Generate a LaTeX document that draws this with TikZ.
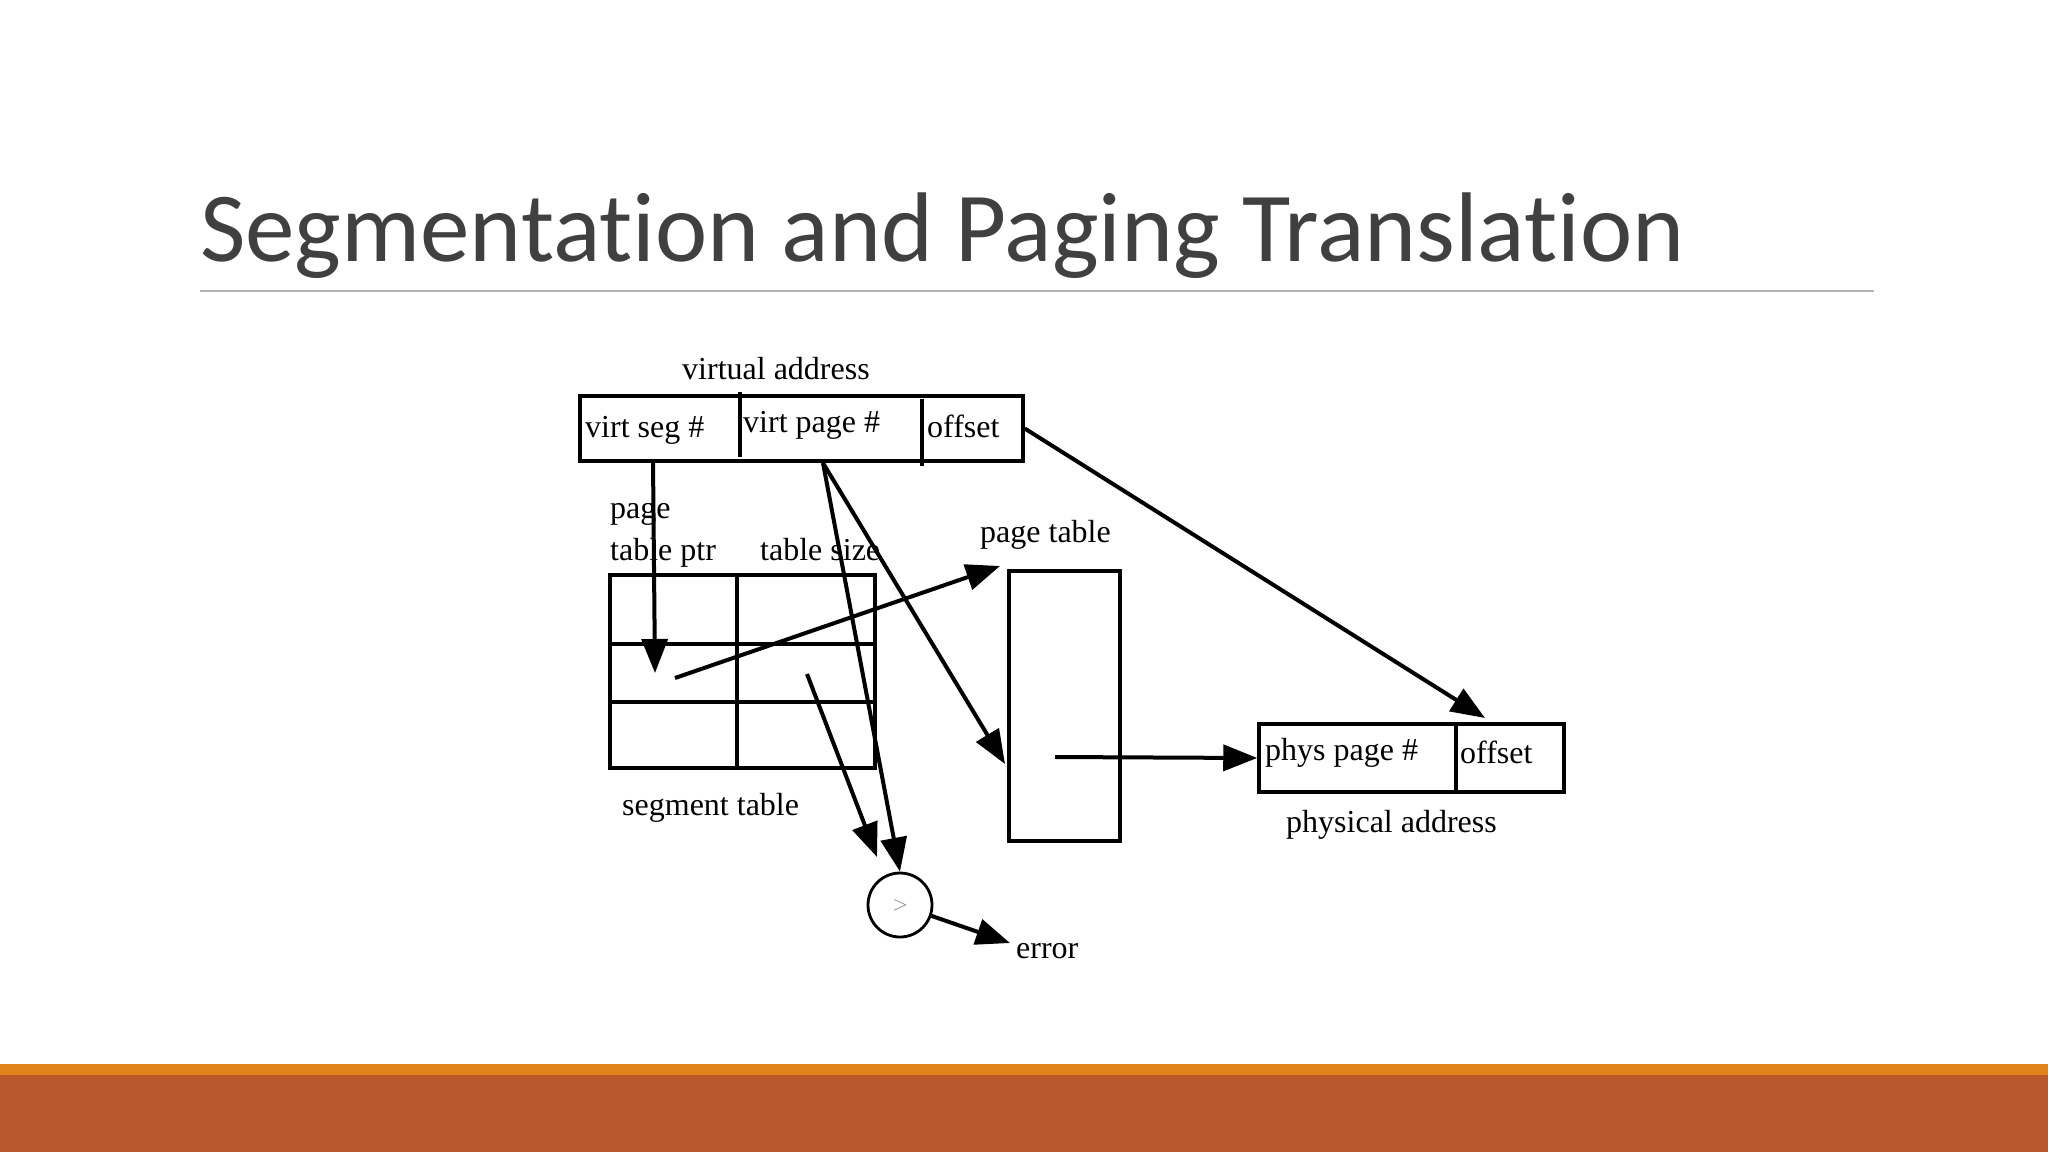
\documentclass[tikz,border=0pt]{standalone}
\usepackage{fontspec}
\setmainfont{Liberation Serif}
\newfontfamily\titlefont[Ligatures=NoCommon]{Carlito}
\usetikzlibrary{arrows.meta}

\definecolor{titlegray}{HTML}{404040}
\definecolor{rulegray}{HTML}{B4B4B4}
\definecolor{barorange}{HTML}{E2841A}
\definecolor{barrust}{HTML}{BA582D}

\tikzset{
  box/.style={draw, rectangle, line width=3.5pt, inner sep=0pt},
  lbl/.style={anchor=base west, inner sep=0pt, font=\fontsize{32}{38}\selectfont},
  arr/.style={-{Triangle[length=34pt,width=26pt]}, line width=4pt},
}

\begin{document}
\begin{tikzpicture}[x=1pt,y=-1pt]
        \useasboundingbox (0,0) rectangle (2048,1152);

        % Slide
        \fill[barorange] (0,1064) rectangle (2048,1075);
        \fill[barrust] (0,1075) rectangle (2048,1152);
        \node at (200,261) [anchor=base west, inner sep=0pt, text=titlegray, font=\titlefont\fontsize{99}{105}\selectfont] (title) {Segmentation and Paging Translation};
        \draw[rulegray, line width=1.5pt] (200,291) -- (1874,291);

        % Boxes
        \node at (801.5,428.5) [box, minimum width=443pt, minimum height=65pt] (vaddr) {};
        \draw[line width=3.5pt] (740,392) -- (740,457);
        \draw[line width=3.5pt] (922,399) -- (922,466);

        \node at (742.5,671.5) [box, minimum width=265pt, minimum height=193pt] (segtab) {};
        \draw[line width=3.5pt] (737,575) -- (737,768);
        \draw[line width=3.5pt] (610,644) -- (875,644);
        \draw[line width=3.5pt] (610,702) -- (875,702);

        \node at (1064.5,706) [box, minimum width=111pt, minimum height=270pt] (ptab) {};

        \node at (1411.5,758) [box, minimum width=305pt, minimum height=68pt] (paddr) {};
        \draw[line width=3.5pt] (1456,724) -- (1456,794);

        \node at (900,905) [circle, draw, line width=2.8pt, minimum size=64pt, inner sep=0pt, text=gray, font=\sffamily\fontsize{22}{22}\selectfont] (cmp) {$>$};

        % Labels
        \node at (682,379) [lbl] (vaddrlbl) {virtual address};
        \node at (585,437) [lbl] (vseg) {virt seg \#};
        \node at (743,432) [lbl] (vpage) {virt page \#};
        \node at (927,437) [lbl] (voff) {offset};
        \node at (610,518) [lbl] (pagelbl) {page};
        \node at (610,560) [lbl] (ptrlbl) {table ptr};
        \node at (760,560) [lbl] (sizelbl) {table size};
        \node at (622,815) [lbl] (seglbl) {segment table};
        \node at (980,542) [lbl] (ptablbl) {page table};
        \node at (1265,760) [lbl] (ppage) {phys page \#};
        \node at (1460,763) [lbl] (poff) {offset};
        \node at (1286,832) [lbl] (paddrlbl) {physical address};
        \node at (1016,958) [lbl] (errlbl) {error};

        % Arrow ends
        \coordinate (vsegout) at (653,461);
        \coordinate (ptrin) at (655,673);
        \coordinate (ptrout) at (675,678);
        \coordinate (ptabin) at (1000,566);
        \coordinate (vpageout) at (823,463);
        \coordinate (ptabrow) at (1005,764);
        \coordinate (sizeout) at (807,674);
        \coordinate (cmpin) at (877,857);
        \coordinate (errin) at (1010,943);
        \coordinate (ptabout) at (1055,757);
        \coordinate (poffin) at (1485,718);

        % Arrows
        \draw[arr] (vsegout) -- (ptrin);
        \draw[arr] (ptrout) -- (ptabin);
        \draw[arr] (vpageout) -- (cmp.north);
        \draw[arr] (vpageout) -- (ptabrow);
        \draw[arr] (sizeout) -- (cmpin);
        \draw[arr] (cmp) -- (errin);
        \draw[arr] (ptabout) -- (paddr.west);
        \draw[arr] (vaddr.east) -- (poffin);

\end{tikzpicture}
\end{document}
